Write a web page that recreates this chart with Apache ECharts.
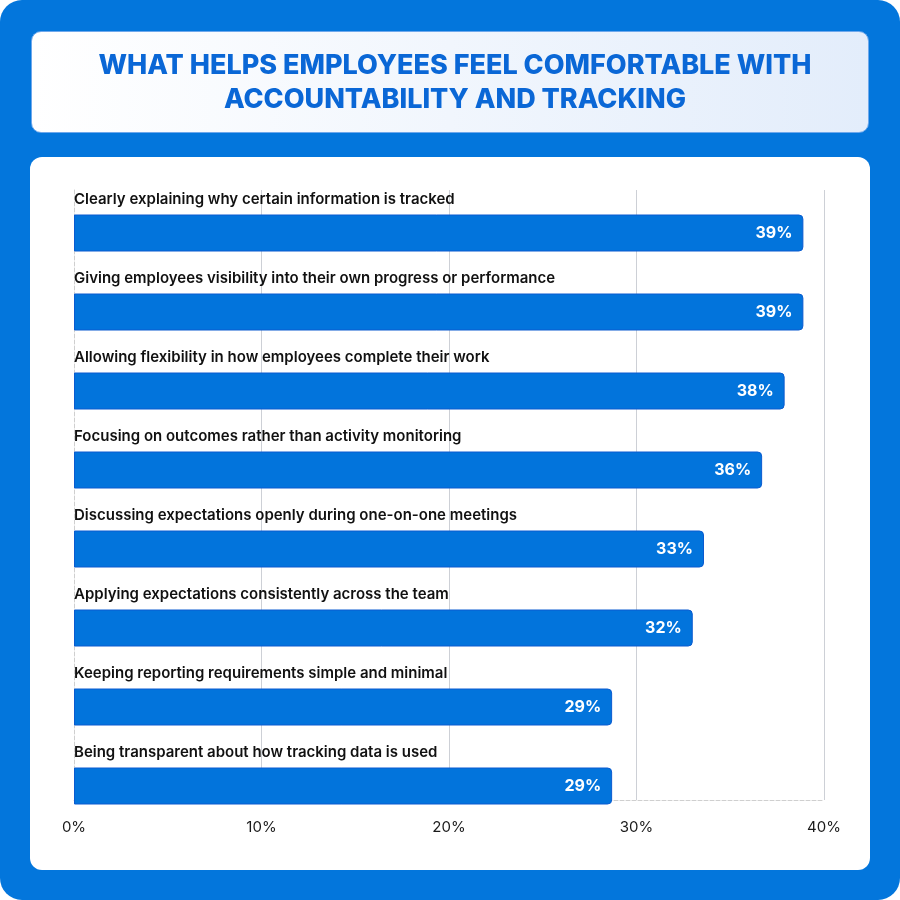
<!DOCTYPE html>
<html>
<head>
<meta charset="utf-8">
<title>Accountability and tracking</title>
<script src="https://cdn.jsdelivr.net/npm/echarts/dist/echarts.min.js"></script>
<style>
  body { margin: 0; background: #fff; }
  #frame { position: absolute; left: 0; top: 0; width: 900px; height: 900px; background: #0376dc; border-radius: 22px; }
  #head { position: absolute; left: 31px; top: 31px; width: 838px; height: 102px; box-sizing: border-box;
          border: 1.5px solid #6ea8ec; border-radius: 10px; background: linear-gradient(90deg, #ffffff, #e3edfb); }
  #panel { position: absolute; left: 30px; top: 157px; width: 840px; height: 713px; background: #fff; border-radius: 12px; }
  #chart { position: absolute; left: 0; top: 0; width: 900px; height: 900px; }
</style>
</head>
<body>
<div id="frame"></div>
<div id="head"></div>
<div id="panel"></div>
<div id="chart"></div>
<script>
var categories = [
    'Clearly explaining why certain information is tracked',
    'Giving employees visibility into their own progress or performance',
    'Allowing flexibility in how employees complete their work',
    'Focusing on outcomes rather than activity monitoring',
    'Discussing expectations openly during one-on-one meetings',
    'Applying expectations consistently across the team',
    'Keeping reporting requirements simple and minimal',
    'Being transparent about how tracking data is used'
];
// bar lengths as drawn in the picture
var values = [38.9, 38.9, 37.9, 36.7, 33.6, 33.0, 28.7, 28.7];
// printed labels
var valueLabels = ['39%', '39%', '38%', '36%', '33%', '32%', '29%', '29%'];
var axisMin = 0, axisMax = 40, axisStep = 10;

var chart = echarts.init(document.getElementById('chart'), null, {renderer: 'canvas'});

option = {
    backgroundColor: 'transparent',
    title: {
        text: 'WHAT HELPS EMPLOYEES FEEL COMFORTABLE WITH\nACCOUNTABILITY AND TRACKING',
        left: 450,
        top: 44,
        textAlign: 'center',
        textStyle: {
            fontFamily: 'Inter',
            fontWeight: 800,
            fontSize: 27,
            lineHeight: 34,
            color: '#0a67d6'
        }
    },
    grid: [
        {left: 74, right: 76, top: 193.5, height: 632},   // bars
        {left: 74, right: 76, top: 190, height: 610}      // ticks + gridlines
    ],
    xAxis: [
        {gridIndex: 0, type: 'value', min: axisMin, max: axisMax, show: false},
        {
            gridIndex: 1, type: 'value', min: axisMin, max: axisMax, interval: axisStep,
            axisLine: {show: true, lineStyle: {color: '#cfcfcf', type: 'dashed'}},
            axisTick: {show: false},
            splitLine: {show: true, showMinLine: false, lineStyle: {color: '#cdd0d6', width: 1}},
            axisLabel: {
                formatter: '{value}%', color: '#1a1a1a', fontSize: 15,
                fontFamily: 'Inter', margin: 20
            }
        }
    ],
    yAxis: [
        {
            gridIndex: 0, type: 'category', inverse: true, data: categories,
            axisLine: {show: false},
            axisTick: {show: false},
            splitLine: {show: false},
            axisLabel: {
                inside: true, margin: 0, align: 'left', verticalAlign: 'bottom',
                padding: [0, 0, 26, 0], lineHeight: 16,
                color: '#111', fontSize: 15, fontWeight: 600, fontFamily: 'Inter'
            }
        },
        {
            gridIndex: 1, type: 'value', min: 0, max: 1,
            axisLine: {show: true, lineStyle: {color: '#cfcfcf', type: 'dashed'}},
            axisTick: {show: false},
            axisLabel: {show: false},
            splitLine: {show: false}
        }
    ],
    series: [
        {
            type: 'bar',
            xAxisIndex: 0,
            yAxisIndex: 0,
            data: values,
            barWidth: 37,
            itemStyle: {
                color: '#0274dc',
                borderColor: '#0a5bd0',
                borderWidth: 1,
                borderRadius: [0, 4, 4, 0]
            },
            label: {
                show: true,
                position: 'insideRight',
                distance: 11,
                formatter: function (p) { return valueLabels[p.dataIndex]; },
                color: '#fff',
                fontSize: 16,
                fontWeight: 700,
                fontFamily: 'Inter'
            },
            silent: true
        }
    ]
};

chart.setOption(option);
</script>
</body>
</html>
